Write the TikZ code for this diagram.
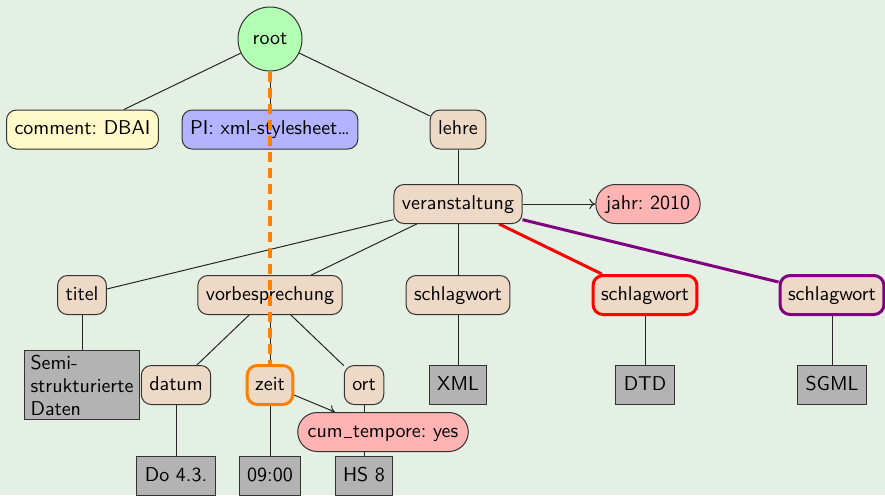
\documentclass[tikz,border=0pt]{standalone}
\usetikzlibrary{arrows.meta}
\definecolor{bgc}{RGB}{229,240,229}
\definecolor{beige}{RGB}{237,217,197}
\definecolor{grayc}{RGB}{179,179,179}
\definecolor{pinkc}{RGB}{255,179,179}
\definecolor{yellowc}{RGB}{255,250,200}
\definecolor{bluec}{RGB}{179,179,255}
\definecolor{greenc}{RGB}{179,255,179}
\definecolor{orangec}{RGB}{255,128,0}
\definecolor{purplec}{RGB}{128,0,128}
\pgfdeclarelayer{bgl}\pgfdeclarelayer{edgel}\pgfdeclarelayer{frontl}
\pgfsetlayers{bgl,edgel,main,frontl}
\newcommand{\uscore}{\kern0.04em\rule[-0.3pt]{0.42em}{0.45pt}\kern0.04em}
\frenchspacing
\begin{document}
\begin{tikzpicture}[x=0.5pt,y=-0.5pt,
  font=\sffamily\fontsize{10}{11.5}\selectfont,
  elem/.style={draw=black!80, fill=beige, rounded corners=5pt, inner xsep=4pt, inner ysep=0pt, minimum height=19.5pt, line width=0.5pt, text height=7pt, text depth=2pt},
  val/.style={draw=black!80, fill=grayc, inner xsep=4pt, inner ysep=0pt, minimum height=19.5pt, line width=0.5pt, text height=7pt, text depth=2pt},
  pill/.style={draw=black!80, fill=pinkc, rounded corners=9.75pt, inner xsep=5pt, inner ysep=0pt, minimum height=19.5pt, line width=0.5pt, text height=7pt, text depth=2pt},
  conn/.style={line width=0.5pt, draw=black!85},
  arr/.style={conn, -{To[length=3pt,width=5pt]}},
  hot/.style={line width=1.5pt}]
\begin{pgfonlayer}{bgl}
\fill[bgc] (0,0) rectangle (885,495);
\end{pgfonlayer}
\useasboundingbox (0,0) rectangle (885,495);

% nodes
\node[circle, draw=black!80, fill=greenc, minimum size=32pt, inner sep=0pt, line width=0.5pt] (root) at (270,39) {root};
\node[elem, fill=yellowc] (comment) at (82.5,129.5) {comment: DBAI};
\node[elem, fill=bluec] (pi) at (270,129.5) {PI: xml-stylesheet\dots};
\node[elem] (lehre) at (458,129.5) {lehre};
\node[elem] (ver) at (458,204) {veranstaltung};
\node[pill] (jahr) at (648,204) {jahr: 2010};
\node[elem] (titel) at (82,295) {titel};
\node[elem] (vorb) at (270,295) {vorbesprechung};
\node[elem] (sw1) at (458,295) {schlagwort};
\node[elem, draw=red, hot] (sw2) at (645,295) {schlagwort};
\node[elem, draw=purplec, hot] (sw3) at (832,295) {schlagwort};
\node[val, align=left, inner xsep=3pt, inner ysep=2pt, text height=, text depth=] (semi) at (82,385) {Semi-\\strukturierte\\Daten};
\node[elem] (datum) at (176,385) {datum};
\node[elem, draw=orangec, hot] (zeit) at (270,385) {zeit};
\node[elem] (ort) at (364,385) {ort};
\node[val] (xml) at (458,385) {XML};
\node[val] (dtd) at (645,385) {DTD};
\node[val] (sgml) at (832,385) {SGML};
\node[pill] (cum) at (383,432) {cum\uscore tempore: yes};
\node[val] (do) at (176,476) {Do 4.3.};
\node[val] (uhr) at (270,476) {09:00};
\node[val] (hs) at (364,476) {HS 8};

% connectors
\begin{pgfonlayer}{edgel}
\draw[conn] (root) -- (comment);
\draw[conn] (root) -- (pi);
\draw[conn] (root) -- (lehre);
\draw[conn] (lehre) -- (ver);
\draw[arr] (ver) -- (jahr);
\draw[conn] (ver) -- (titel);
\draw[conn] (ver) -- (vorb);
\draw[conn] (ver) -- (sw1);
\draw[hot, red] (ver) -- (sw2);
\draw[hot, purplec] (ver) -- (sw3);
\draw[conn] (titel) -- (semi);
\draw[conn] (vorb) -- (datum);
\draw[conn] (vorb) -- (zeit);
\draw[conn] (vorb) -- (ort);
\draw[conn] (sw1) -- (xml);
\draw[conn] (sw2) -- (dtd);
\draw[conn] (sw3) -- (sgml);
\draw[conn] (datum) -- (do);
\draw[conn] (zeit) -- (uhr);
\draw[conn] (ort) -- (hs);
\draw[arr] (zeit) -- (cum);
\end{pgfonlayer}
\begin{pgfonlayer}{frontl}
\draw[orangec, line width=2pt, dash pattern=on 5pt off 3pt] (root.south) -- (zeit.north);
\end{pgfonlayer}
\end{tikzpicture}
\end{document}
